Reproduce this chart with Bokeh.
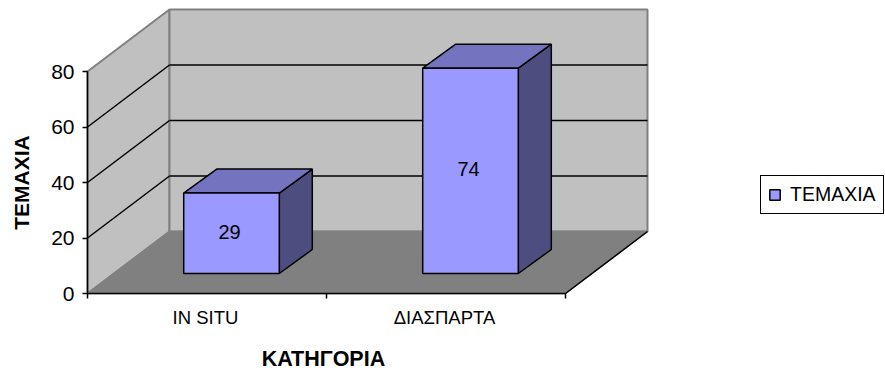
from bokeh.plotting import figure
from bokeh.models import LinearAxis, FixedTicker, Legend, LegendItem, Label, ColumnDataSource
from bokeh.core.properties import value
from bokeh.embed import file_html
from bokeh.resources import INLINE

categories = ["IN SITU", "ΔΙΑΣΠΑΡΤΑ"]
series_name = "ΤΕΜΑΧΙΑ"
values = [29, 74]
y_ticks = [0, 20, 40, 60, 80]
x_title = "ΚΑΤΗΓΟΡΙΑ"
y_title = "ΤΕΜΑΧΙΑ"

FONT = "Liberation Sans"
W, H = 885, 371
X0, Y0 = 87, 293  # page position of the axis origin
PX_X = 239.0      # pixels per category
PX_Y = 2.775      # pixels per value unit
W_DX = 82 / PX_X  # depth of the chart box
W_DY = 62 / PX_Y
B_DX = 33 / PX_X  # depth of a bar
B_DY = 24 / PX_Y
SHIFT_X = 24.5 / PX_X  # front of the bars relative to the front of the floor
SHIFT_Y = 20 / PX_Y
BAR_W = 0.4
YMAX = y_ticks[-1]
N = len(categories)
LABEL_POS = [i + 0.5 - 1.5 / PX_X for i in range(N)]

p = figure(width=W, height=H, min_border=0,
           x_range=(-X0 / PX_X, (W - X0) / PX_X), y_range=(-(H - Y0) / PX_Y, Y0 / PX_Y),
           x_axis_type=None, y_axis_type=None,
           output_backend="svg", toolbar_location=None, background_fill_color="white",
           border_fill_color="white", outline_line_color=None)
p.grid.visible = False

# walls
p.patch([0, W_DX, W_DX, 0], [0, W_DY, YMAX + W_DY, YMAX], fill_color="#c0c0c0",
        line_color="#808080", line_width=2)
p.patch([W_DX, N + W_DX, N + W_DX, W_DX], [W_DY, W_DY, YMAX + W_DY, YMAX + W_DY],
        fill_color="#c0c0c0", line_color="#808080", line_width=2)
# floor
p.patch([0, N, N + W_DX, W_DX], [0, 0, W_DY, W_DY], fill_color="#808080",
        line_color="#808080", line_width=1.5)
p.line([N, N + W_DX], [0, W_DY], line_color="black", line_width=1.5)

# gridlines on both walls
for t in y_ticks[1:-1]:
    p.line([W_DX, N + W_DX], [t + W_DY, t + W_DY], line_color="black", line_width=1.5)
    p.line([0, W_DX], [t, t + W_DY], line_color="black", line_width=1.5)

centers = [i + 0.5 + SHIFT_X for i in range(N)]
base = SHIFT_Y
src = ColumnDataSource(dict(x=centers, bottom=[base] * N, top=[base + v for v in values],
                            mid=[base + v / 2 + 0.6 for v in values],
                            lab=[str(v) for v in values]))

for cx, v in zip(centers, values):
    l, r = cx - BAR_W / 2, cx + BAR_W / 2
    top = base + v
    p.patch([r, r + B_DX, r + B_DX, r], [base, base + B_DY, top + B_DY, top],
            fill_color="#4d4d80", line_color="black", line_width=1.5)
    p.patch([l, r, r + B_DX, l + B_DX], [top, top, top + B_DY, top + B_DY],
            fill_color="#7373bf", line_color="black", line_width=1.5)

front = p.vbar(x="x", width=BAR_W, bottom="bottom", top="top", source=src,
               fill_color="#9999ff", line_color="black", line_width=1.5)

p.text(x="x", y="mid", text="lab", source=src, text_align="center", text_baseline="middle",
       x_offset=-2, text_font=value(FONT), text_font_size="20px", text_color="black")

# axes
yaxis = LinearAxis(ticker=FixedTicker(ticks=y_ticks), bounds=(0, YMAX), fixed_location=0)
yaxis.axis_line_color = "black"
yaxis.axis_line_width = 1.5
yaxis.major_tick_line_color = "black"
yaxis.major_tick_line_width = 1.5
yaxis.major_tick_in = 0
yaxis.major_tick_out = 5
yaxis.minor_tick_line_color = None
yaxis.major_label_standoff = 8
yaxis.major_label_text_font = FONT
yaxis.major_label_text_font_size = "21px"
yaxis.major_label_text_color = "black"
p.add_layout(yaxis, "left")

xaxis = LinearAxis(ticker=FixedTicker(ticks=LABEL_POS, minor_ticks=list(range(N + 1))),
                   bounds=(0, N), fixed_location=0)
xaxis.major_label_overrides = dict(zip(LABEL_POS, categories))
xaxis.axis_line_color = "black"
xaxis.axis_line_width = 1.5
xaxis.major_tick_line_color = None
xaxis.major_tick_in = 0
xaxis.major_tick_out = 0
xaxis.minor_tick_line_color = "black"
xaxis.minor_tick_line_width = 1.5
xaxis.minor_tick_in = 0
xaxis.minor_tick_out = 5
xaxis.major_label_standoff = 8
xaxis.major_label_text_font = FONT
xaxis.major_label_text_font_size = "18.5px"
xaxis.major_label_text_color = "black"
p.add_layout(xaxis, "below")

# axis titles
p.add_layout(Label(x=N / 2, y=0, x_offset=-3, y_offset=-65, text=x_title,
                   text_align="center", text_baseline="middle", text_font=FONT,
                   text_font_style="bold", text_font_size="21.5px", text_color="black"))
p.add_layout(Label(x=0, y=YMAX / 2, x_offset=-66, text=y_title, angle=90, angle_units="deg",
                   text_align="center", text_baseline="middle", text_font=FONT,
                   text_font_style="bold", text_font_size="21px", text_color="black"))

# legend
legend = Legend(items=[LegendItem(label=series_name, renderers=[front])],
                location=(760, 157), margin=0, padding=7, spacing=0,
                glyph_width=13, glyph_height=13, label_standoff=9,
                label_text_font=FONT, label_text_font_size="19.5px", label_text_color="black",
                border_line_color="black", border_line_width=1.5, border_line_alpha=1.0,
                background_fill_color="white", background_fill_alpha=1.0)
p.add_layout(legend, "center")

open("out.html", "w").write(file_html(p, INLINE))
